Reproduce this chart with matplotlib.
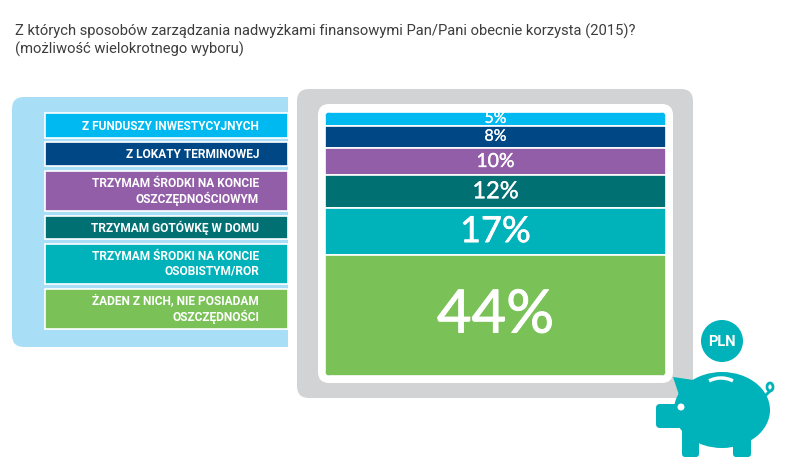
import matplotlib
matplotlib.use("Agg")
import matplotlib.pyplot as plt
import matplotlib.patheffects as pe
from matplotlib.patches import FancyBboxPatch, Rectangle, Ellipse, Circle, Polygon, Arc

# ---------------- data ----------------
categories = [
    "Z FUNDUSZY INWESTYCYJNYCH",
    "Z LOKATY TERMINOWEJ",
    "TRZYMAM ŚRODKI NA KONCIE\nOSZCZĘDNOŚCIOWYM",
    "TRZYMAM GOTÓWKĘ W DOMU",
    "TRZYMAM ŚRODKI NA KONCIE\nOSOBISTYM/ROR",
    "ŻADEN Z NICH, NIE POSIADAM\nOSZCZĘDNOŚCI",
]
values = [5, 8, 10, 12, 17, 44]
labels = ["5%", "8%", "10%", "12%", "17%", "44%"]
title = ("Z których sposobów zarządzania nadwyżkami finansowymi Pan/Pani obecnie korzysta (2015)?\n"
         "(możliwość wielokrotnego wyboru)")

# ---------------- style ----------------
colors = ["#00b9f1", "#004785", "#935ea8", "#007073", "#00b2b9", "#7ac257"]
label_sizes = [11.5, 11.5, 14, 17, 26, 43]
legend_boxes = [(113, 138), (142, 166), (171, 211), (216, 239), (244, 284), (289, 329)]
W, H = 786, 474

fig = plt.figure(figsize=(W / 100, H / 100), dpi=100)
ax0 = fig.add_axes([0, 0, 1, 1])
ax0.set_xlim(0, W)
ax0.set_ylim(H, 0)
ax0.axis("off")

# title
ax0.text(15, 23.5, title, ha="left", va="top", fontsize=10.6, color="#3d3d3d",
         family=["Roboto", "DejaVu Sans"], linespacing=1.2)

# light blue panel
ax0.add_patch(FancyBboxPatch((12, 97), 300, 250, boxstyle="round,pad=0,rounding_size=12",
                             fc="#a9def7", ec="none", zorder=1))
ax0.add_patch(Rectangle((288, 90), 30, 270, fc="white", ec="none", zorder=1.5))

# legend boxes
for (y0, y1), c, txt in zip(legend_boxes, colors, categories):
    ax0.add_patch(Rectangle((45, y0), 243, y1 - y0, fc=c, ec="white", lw=1.2, zorder=2))
    ax0.text(259, (y0 + y1) / 2 + 0.5, txt, ha="right", va="center", fontsize=8.6,
             fontweight="bold", color="white", family=["Roboto", "DejaVu Sans"],
             linespacing=1.2, zorder=3)

# gray frame and white inner
ax0.add_patch(FancyBboxPatch((297, 89), 396, 309, boxstyle="round,pad=0,rounding_size=12",
                             fc="#d1d3d4", ec="none", zorder=2))
ax0.add_patch(FancyBboxPatch((318, 104), 355, 279, boxstyle="round,pad=0,rounding_size=11",
                             fc="white", ec="none", zorder=3))
clip = FancyBboxPatch((325, 112), 341, 264, boxstyle="round,pad=0,rounding_size=6",
                      fc="none", ec="none", transform=ax0.transData)
ax0.add_patch(clip)

# stacked bar
ax1 = fig.add_axes([325 / W, (H - 376) / H, 341 / W, 264 / H])
ax1.set_xlim(0, 1)
ax1.set_ylim(sum(values), 0)
ax1.axis("off")
ax1.patch.set_alpha(0)
bottom = 0
for v, c, lab, fs in zip(values, colors, labels, label_sizes):
    b = ax1.bar(0.5, v, width=1, bottom=bottom, color=c, edgecolor="white", linewidth=1.2)
    for p in b:
        p.set_clip_path(clip)
    t = ax1.text(0.5, bottom + v / 2, lab, ha="center", va="center", fontsize=fs,
                 color="white", family=["Lato", "DejaVu Sans"],
                 path_effects=[pe.withStroke(linewidth=fs * 0.016, foreground="white")])
    t.set_clip_path(clip)
    bottom += v

# piggy bank
teal = "#00b2b9"
ax0.add_patch(Circle((722, 341), 21, fc=teal, ec="none", zorder=4))
ax0.text(722, 341.5, "PLN", ha="center", va="center", fontsize=10.5, fontweight="bold",
         color="white", family=["Roboto", "DejaVu Sans"], zorder=5)
ax0.add_patch(Ellipse((722, 410), 96, 76, fc=teal, ec="none", zorder=4))
ax0.add_patch(FancyBboxPatch((656, 404), 26, 24, boxstyle="round,pad=0,rounding_size=4",
                             fc=teal, ec="none", zorder=4))
ax0.add_patch(Polygon([(673, 377), (700, 381), (692, 400), (680, 398)], closed=True,
                      fc=teal, ec="none", zorder=4))
ax0.add_patch(FancyBboxPatch((682, 425), 17, 32, boxstyle="round,pad=0,rounding_size=3",
                             fc=teal, ec="none", zorder=4))
ax0.add_patch(FancyBboxPatch((733, 425), 18, 32, boxstyle="round,pad=0,rounding_size=3",
                             fc=teal, ec="none", zorder=4))
ax0.add_patch(Circle((681, 407), 3.5, fc="white", ec="none", zorder=5))
ax0.add_patch(Arc((721, 400), 48, 44, theta1=238, theta2=302, color="white", lw=2.5, zorder=5))
ax0.add_patch(Arc((770, 387), 6, 8, theta1=0, theta2=360, color=teal, lw=2, zorder=4))
ax0.plot([766, 770], [395, 391], color=teal, lw=2, zorder=4)

fig.savefig("out.png", dpi=100)
